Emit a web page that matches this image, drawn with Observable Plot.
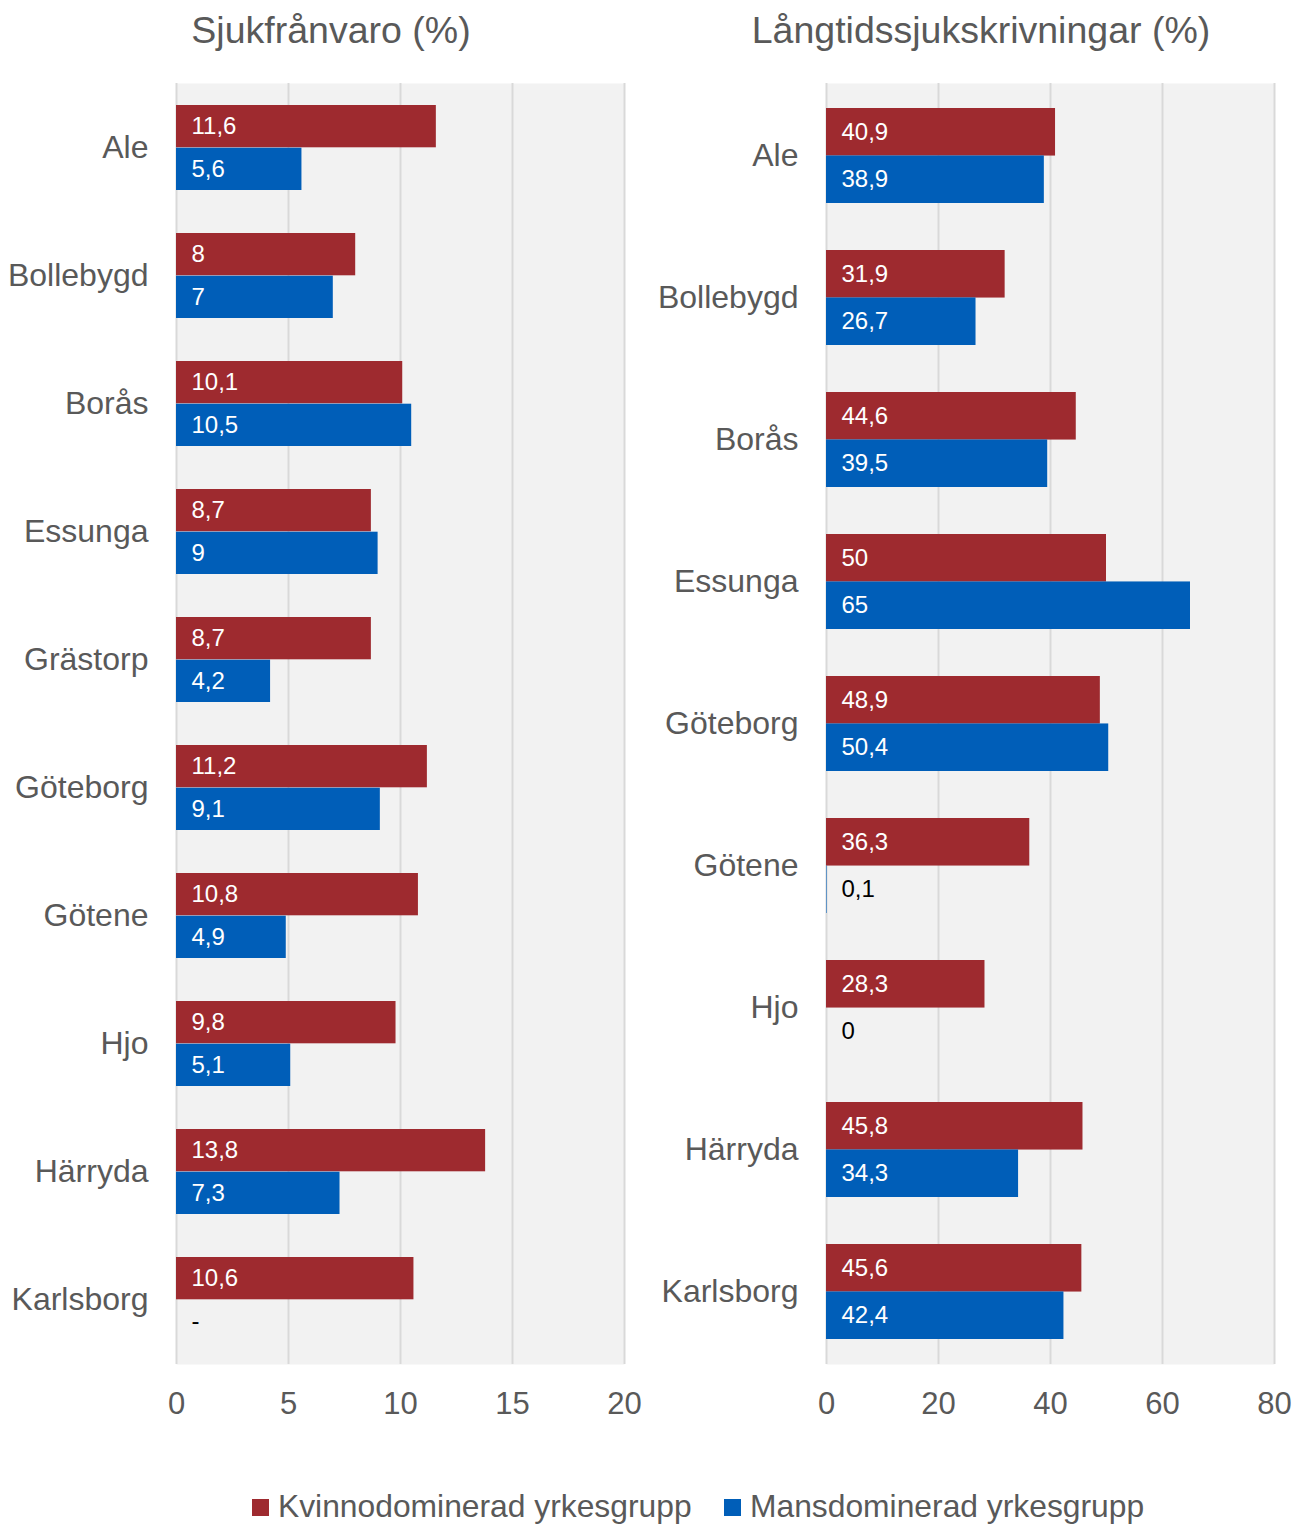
<!DOCTYPE html>
<html>
<head>
<meta charset="utf-8">
<script src="https://cdn.jsdelivr.net/npm/d3@7"></script>
<script src="https://cdn.jsdelivr.net/npm/@observablehq/plot@0.6"></script>
<style>
  body { margin: 0; background: #fff; font-family: "Liberation Sans", Arial, sans-serif; }
  #root { position: relative; width: 1308px; height: 1524px; overflow: hidden; background: #fff; }
  .title { position: absolute; top: 0; height: 60px; line-height: 60px; font-size: 37.5px; color: #595959; text-align: center; white-space: nowrap; }
  .panel { position: absolute; top: 60px; }
  .legend-item { position: absolute; top: 1486px; height: 40px; display: flex; align-items: center; font-size: 31.8px; color: #595959; white-space: nowrap; }
  .swatch { width: 17px; height: 17px; margin-right: 9px; margin-top: 2px; }
</style>
</head>
<body>
<div id="root">
  <div id="leftPanel" class="panel" style="left:0px"></div>
  <div id="rightPanel" class="panel" style="left:654px"></div>
  <div class="title" style="left:0px;width:662px">Sjukfrånvaro (%)</div>
  <div class="title" style="left:654px;width:654px">Långtidssjukskrivningar (%)</div>
  <div id="legend"></div>
</div>
<script>
// ---- Data ----
const series = ["Kvinnodominerad yrkesgrupp", "Mansdominerad yrkesgrupp"];
const seriesColors = ["#9E2A2F", "#005EB8"];

const sjukCategories = ["Ale", "Bollebygd", "Borås", "Essunga", "Grästorp", "Göteborg", "Götene", "Hjo", "Härryda", "Karlsborg"];
const sjukKvinno = [11.6, 8, 10.1, 8.7, 8.7, 11.2, 10.8, 9.8, 13.8, 10.6];
const sjukMans = [5.6, 7, 10.5, 9, 4.2, 9.1, 4.9, 5.1, 7.3, null];
const sjukTicks = [0, 5, 10, 15, 20];

const langCategories = ["Ale", "Bollebygd", "Borås", "Essunga", "Göteborg", "Götene", "Hjo", "Härryda", "Karlsborg"];
const langKvinno = [40.9, 31.9, 44.6, 50, 48.9, 36.3, 28.3, 45.8, 45.6];
const langMans = [38.9, 26.7, 39.5, 65, 50.4, 0.1, 0, 34.3, 42.4];
const langTicks = [0, 20, 40, 60, 80];

// ---- Helpers ----
function buildRows(cats, kv, ma) {
  return cats.flatMap((c, i) => [
    {cat: c, series: series[0], value: kv[i]},
    {cat: c, series: series[1], value: ma[i]}
  ]);
}
const fmt = v => v == null ? "-" : String(v).replace(".", ",");
const isDark = d => d.value != null && d.value >= 1;

function panel({cats, data, ticks, width, marginLeft, marginRight}) {
  const height = 1380, marginTop = 23, marginBottom = 76;
  const step = (height - marginTop - marginBottom) / cats.length;
  const half = step * (2 / 3) / 2;
  const kv = data.filter(d => d.series === series[0]);
  const ma = data.filter(d => d.series === series[1]);
  const textOpts = (dy, fill) => ({x: 0, y: "cat", text: d => fmt(d.value), dx: 15, dy, textAnchor: "start", fill, fontSize: 24});
  return Plot.plot({
    width, height, marginTop, marginBottom, marginLeft, marginRight,
    style: {fontFamily: "'Liberation Sans', Arial, sans-serif", background: "transparent", overflow: "visible"},
    x: {domain: [ticks[0], ticks[ticks.length - 1]]},
    y: {domain: cats, paddingInner: 1 / 3, paddingOuter: 1 / 6},
    color: {domain: series, range: seriesColors},
    marks: [
      Plot.frame({fill: "#F2F2F2", stroke: null}),
      Plot.gridX({ticks, stroke: "#D9D9D9", strokeOpacity: 1, strokeWidth: 2}),
      Plot.barX(kv, {x1: 0, x2: "value", y: "cat", fill: "series", insetBottom: half}),
      Plot.barX(ma.filter(d => d.value != null), {x1: 0, x2: "value", y: "cat", fill: "series", insetTop: half}),
      Plot.text(kv.filter(isDark), textOpts(-half / 2, "white")),
      Plot.text(kv.filter(d => !isDark(d)), textOpts(-half / 2, "black")),
      Plot.text(ma.filter(isDark), textOpts(half / 2, "white")),
      Plot.text(ma.filter(d => !isDark(d)), textOpts(half / 2, "black")),
      Plot.axisY({tickSize: 0, tickPadding: 28, fontSize: 32, color: "#595959", label: null}),
      Plot.axisX({ticks, tickSize: 0, tickPadding: 27, fontSize: 31, color: "#595959", label: null})
    ]
  });
}

document.getElementById("leftPanel").appendChild(panel({
  cats: sjukCategories, data: buildRows(sjukCategories, sjukKvinno, sjukMans), ticks: sjukTicks,
  width: 654, marginLeft: 176, marginRight: 30
}));
document.getElementById("rightPanel").appendChild(panel({
  cats: langCategories, data: buildRows(langCategories, langKvinno, langMans), ticks: langTicks,
  width: 654, marginLeft: 172, marginRight: 34
}));

// ---- Legend ----
const legendLeft = [252, 724];
const legend = document.getElementById("legend");
series.forEach((s, i) => {
  const item = document.createElement("div");
  item.className = "legend-item";
  item.style.left = legendLeft[i] + "px";
  const sw = document.createElement("div");
  sw.className = "swatch";
  sw.style.background = seriesColors[i];
  const tx = document.createElement("span");
  tx.textContent = s;
  item.appendChild(sw);
  item.appendChild(tx);
  legend.appendChild(item);
});
</script>
</body>
</html>
